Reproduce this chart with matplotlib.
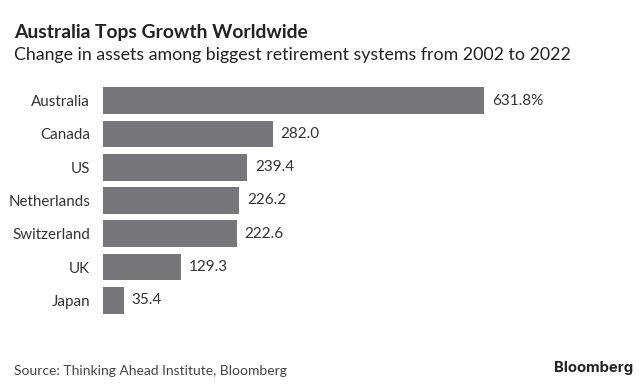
import matplotlib.pyplot as plt

# Data
countries = ['Australia', 'Canada', 'US', 'Netherlands', 'Switzerland', 'UK', 'Japan']
growth = [631.8, 282.0, 239.4, 226.2, 222.6, 129.3, 35.4]
value_labels = ['631.8%', '282.0', '239.4', '226.2', '222.6', '129.3', '35.4']

W, H = 644, 390
fig = plt.figure(figsize=(W / 100, H / 100), dpi=100)
fig.patch.set_facecolor('white')

font = ['Lato', 'DejaVu Sans']

# axes placed in pixel terms
left, right, top, bottom = 102.5, 630, 80, 320
ax = fig.add_axes([left / W, 1 - bottom / H, (right - left) / W, (bottom - top) / H])

pos = list(range(len(countries)))
ax.barh(pos, growth, height=0.8, color='#77777b')

for y, v, lab in zip(pos, growth, value_labels):
    ax.text(v + 13, y, lab, va='center', ha='left', fontsize=11,
            color='#333333', family=font)

ax.set_xlim(0, 874)
ax.set_ylim(6.59, -0.62)
ax.set_yticks(pos)
ax.set_yticklabels(countries, fontsize=10.9, color='#333333', family=font)
ax.tick_params(axis='y', length=0, pad=9)
ax.set_xticks([])
for s in ax.spines.values():
    s.set_visible(False)

# Titles
fig.text(14 / W, 1 - 37.7 / H, 'Australia Tops Growth Worldwide', fontsize=13.9,
         fontweight='bold', color='#222222', family=font)
fig.text(14 / W, 1 - 60 / H,
         'Change in assets among biggest retirement systems from 2002 to 2022',
         fontsize=12.75, color='#222222', family=font)

# Footer
fig.text(14 / W, 1 - 375 / H, 'Source: Thinking Ahead Institute, Bloomberg',
         fontsize=10, color='#444444', family=font)
fig.text(633 / W, 1 - 372 / H, 'Bloomberg', fontsize=10.7, fontweight='bold',
         color='#222222', ha='right', family=['Inter', 'DejaVu Sans'])

fig.savefig('out.png', dpi=100, facecolor='white')
